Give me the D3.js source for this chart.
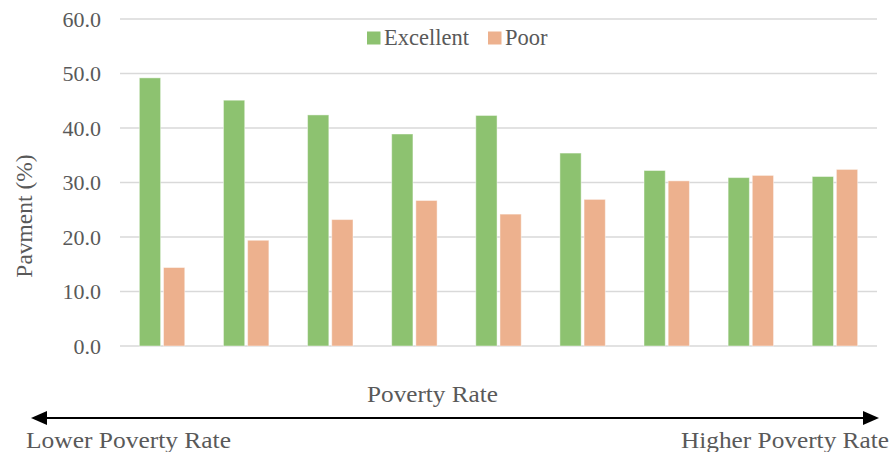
<!DOCTYPE html>
<html>
<head>
<meta charset="utf-8">
<script src="https://cdn.jsdelivr.net/npm/d3@7"></script>
<style>
  html, body { margin: 0; padding: 0; background: #fff; }
  svg { display: block; font-family: "Liberation Serif", "Times New Roman", serif; }
</style>
</head>
<body>
<svg id="chart" width="894" height="452"></svg>
<script>
// Payment share by poverty-rate group, lowest to highest poverty rate
const groups = ["G1", "G2", "G3", "G4", "G5", "G6", "G7", "G8", "G9"];
const excellent = [49.2, 45.1, 42.4, 38.9, 42.3, 35.4, 32.2, 30.9, 31.1];
const poor = [14.4, 19.4, 23.2, 26.7, 24.2, 26.9, 30.3, 31.3, 32.4];
const seriesNames = ["Excellent", "Poor"];
const yTicks = [0, 10, 20, 30, 40, 50, 60];

const colors = { Excellent: "#8DC270", Poor: "#EDB18E" };
const textGrey = "#595959";

const svg = d3.select("#chart");
const plot = { left: 120, right: 877, top: 19, bottom: 346 };

const x = d3.scaleBand().domain(groups).range([plot.left, plot.right]).paddingInner(0.46).paddingOuter(0.23);
const xs = d3.scaleBand().domain(seriesNames).range([0, x.bandwidth()]).paddingInner(0.12);
const y = d3.scaleLinear().domain([0, 60]).range([plot.bottom, plot.top]);

// Gridlines
svg.append("g")
  .selectAll("line")
  .data(yTicks)
  .join("line")
  .attr("x1", plot.left).attr("x2", plot.right)
  .attr("y1", d => y(d)).attr("y2", d => y(d))
  .attr("stroke", "#d9d9d9").attr("stroke-width", 1.5);

// Y axis labels
const yAxis = d3.axisLeft(y).tickValues(yTicks).tickFormat(d3.format(".1f")).tickSize(0).tickPadding(0);
const yg = svg.append("g").attr("transform", `translate(101,0)`).call(yAxis);
yg.select(".domain").remove();
yg.selectAll("text")
  .attr("fill", textGrey)
  .style("font-size", "22px")
  .style("font-family", "Liberation Serif, serif")
  .attr("dy", "0.33em");

// Bars
const rows = groups.map((g, i) => ({ g, vals: [
  { s: "Excellent", v: excellent[i] },
  { s: "Poor", v: poor[i] }
]}));

svg.append("g")
  .selectAll("g")
  .data(rows)
  .join("g")
  .attr("transform", d => `translate(${x(d.g)},0)`)
  .selectAll("rect")
  .data(d => d.vals)
  .join("rect")
  .attr("x", d => xs(d.s))
  .attr("width", xs.bandwidth())
  .attr("y", d => y(d.v))
  .attr("height", d => y(0) - y(d.v))
  .attr("fill", d => colors[d.s])
  .attr("stroke", "#ffffff")
  .attr("stroke-opacity", 0.45)
  .attr("stroke-width", 1);

// Legend
const legend = svg.append("g").attr("transform", "translate(367,38)");
const legendItems = [
  { s: "Excellent", dx: 0 },
  { s: "Poor", dx: 121 }
];
const li = legend.selectAll("g").data(legendItems).join("g")
  .attr("transform", d => `translate(${d.dx},0)`);
li.append("rect").attr("x", 0).attr("y", -6.5).attr("width", 13.5).attr("height", 13)
  .attr("fill", d => colors[d.s]);
li.append("text").attr("x", 17).attr("y", 7)
  .attr("fill", textGrey).style("font-size", "22.5px")
  .text(d => d.s);

// X axis title
svg.append("text")
  .attr("x", 432.5).attr("y", 401.7)
  .attr("text-anchor", "middle")
  .attr("fill", textGrey)
  .style("font-size", "23px")
  .attr("textLength", 131)
  .attr("lengthAdjust", "spacingAndGlyphs")
  .text("Poverty Rate");

// Y axis title
svg.append("text")
  .attr("transform", "translate(32,216) rotate(-90)")
  .attr("text-anchor", "middle")
  .attr("fill", textGrey)
  .style("font-size", "23.5px")
  .text("Pavment (%)");

// Double-headed arrow spanning low to high poverty
const arrowY = 418;
const arrowL = 31, arrowR = 879, headLen = 16, headHalf = 7;
svg.append("line")
  .attr("x1", arrowL + headLen - 2).attr("x2", arrowR - headLen + 2)
  .attr("y1", arrowY).attr("y2", arrowY)
  .attr("stroke", "#000").attr("stroke-width", 2);
svg.append("path")
  .attr("d", `M${arrowL},${arrowY} L${arrowL + headLen},${arrowY - headHalf} L${arrowL + headLen},${arrowY + headHalf} Z`)
  .attr("fill", "#000");
svg.append("path")
  .attr("d", `M${arrowR},${arrowY} L${arrowR - headLen},${arrowY - headHalf} L${arrowR - headLen},${arrowY + headHalf} Z`)
  .attr("fill", "#000");

svg.append("text")
  .attr("x", 26).attr("y", 447.5)
  .attr("fill", textGrey).style("font-size", "23px")
  .attr("textLength", 205)
  .attr("lengthAdjust", "spacingAndGlyphs")
  .text("Lower Poverty Rate");
svg.append("text")
  .attr("x", 681).attr("y", 447.5)
  .attr("fill", textGrey).style("font-size", "23px")
  .attr("textLength", 208)
  .attr("lengthAdjust", "spacingAndGlyphs")
  .text("Higher Poverty Rate");
</script>
</body>
</html>
